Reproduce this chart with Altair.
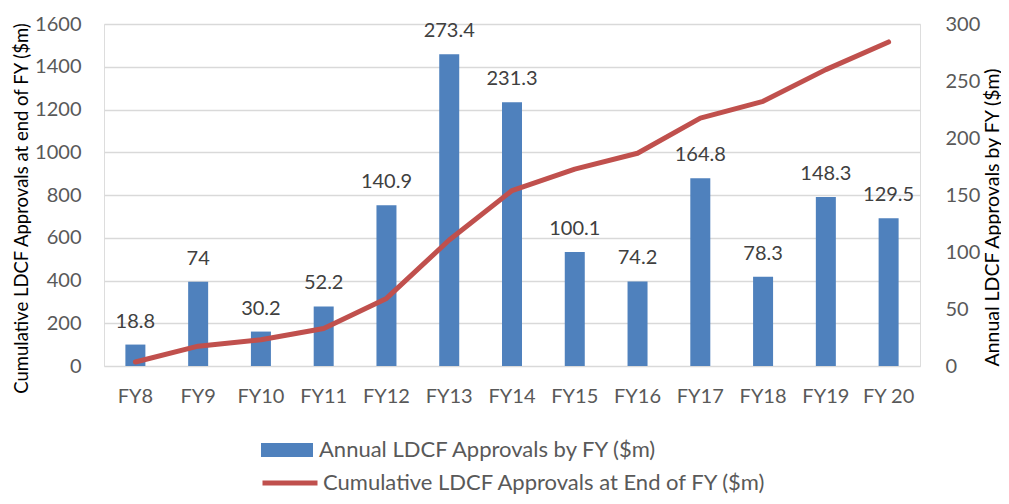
import altair as alt
import pandas as pd

categories = ["FY8", "FY9", "FY10", "FY11", "FY12", "FY13", "FY14", "FY15", "FY16", "FY17", "FY18", "FY19", "FY 20"]
annual = [18.8, 74, 30.2, 52.2, 140.9, 273.4, 231.3, 100.1, 74.2, 164.8, 78.3, 148.3, 129.5]
cumulative = [18.8, 92.8, 123.0, 175.2, 316.1, 589.5, 820.8, 920.9, 995.1, 1159.9, 1238.2, 1386.5, 1516.0]
labels = ["18.8", "74", "30.2", "52.2", "140.9", "273.4", "231.3", "100.1", "74.2", "164.8", "78.3", "148.3", "129.5"]
left_ticks = [0, 200, 400, 600, 800, 1000, 1200, 1400, 1600]
right_ticks = [0, 50, 100, 150, 200, 250, 300]
bar_series = "Annual LDCF Approvals by FY ($m)"
line_series = "Cumulative LDCF Approvals at End of FY ($m)"

df = pd.DataFrame({
    "fy": categories,
    "annual": annual,
    "cumulative": cumulative,
    "label": labels,
    "bs": [bar_series] * len(categories),
    "ls": [line_series] * len(categories),
})

FONT = "Lato"
TXT = "#595959"

x = alt.X("fy:N", sort=categories, title=None,
          scale=alt.Scale(paddingInner=0, paddingOuter=0),
          axis=alt.Axis(labelAngle=0, ticks=False, domain=False, labelPadding=20,
                        labelFontSize=20, labelColor=TXT, labelFont=FONT))

base = alt.Chart(df)

bars = base.mark_bar(size=20).encode(
    x=x,
    y=alt.Y("annual:Q", scale=alt.Scale(domain=[0, 300]),
            axis=alt.Axis(orient="right", values=right_ticks, format="d", grid=False, ticks=False,
                          domain=False, labelPadding=25, labelFontSize=20, labelColor=TXT,
                          labelAlign="left", labelFont=FONT,
                          title="Annual LDCF Approvals by FY ($m)", titleFontSize=19.5,
                          titleFontWeight="normal", titleColor="#000000", titleFont=FONT,
                          titleAngle=270, titleX=72, titleY=193, titleAlign="center",
                          titleBaseline="middle")),
    fill=alt.Fill("bs:N", scale=alt.Scale(range=["#4F81BD"]),
                  legend=alt.Legend(orient="none", legendX=157, legendY=400, title=None,
                                    symbolType="M-1,-0.27L1,-0.27L1,0.27L-1,0.27Z",
                                    symbolSize=2704, symbolStrokeWidth=0, labelOffset=6,
                                    labelFontSize=22, labelColor=TXT, labelFont=FONT,
                                    labelLimit=600)),
)

text = base.mark_text(baseline="middle", dy=-23, fontSize=20, color="#404040", font=FONT).encode(
    x=x,
    y=alt.Y("annual:Q", scale=alt.Scale(domain=[0, 300]), axis=None),
    text="label:N",
)

line = base.mark_line(strokeWidth=5, strokeCap="round", strokeJoin="round").encode(
    x=x,
    y=alt.Y("cumulative:Q", scale=alt.Scale(domain=[0, 1600]),
            axis=alt.Axis(orient="left", values=left_ticks, format="d", grid=True, gridColor="#D9D9D9",
                          gridWidth=1.5, ticks=False, domain=False, labelPadding=23,
                          labelFontSize=20, labelColor=TXT, labelFont=FONT,
                          title="Cumulative LDCF Approvals at end of FY ($m)", titleFontSize=18.5,
                          titleFontWeight="normal", titleColor="#000000", titleFont=FONT,
                          titleAngle=270, titleX=-83, titleY=184, titleAlign="center",
                          titleBaseline="middle")),
    stroke=alt.Stroke("ls:N", scale=alt.Scale(range=["#C0504D"]),
                      legend=alt.Legend(orient="none", legendX=156, legendY=429, title=None,
                                        symbolType="stroke", symbolSize=3025,
                                        symbolStrokeWidth=5, labelOffset=3,
                                        labelFontSize=22, labelColor=TXT, labelFont=FONT,
                                        labelLimit=700)),
)

chart = alt.layer(bars, line, text).resolve_scale(
    y="independent", fill="independent", stroke="independent"
).properties(
    width=816, height=342,
    autosize=alt.AutoSizeParams(type="none"),
    padding={"left": 96, "top": 16, "right": 81, "bottom": 130},
).configure_view(stroke=None).configure(font=FONT)

chart.save("out.html", embed_options={"renderer": "svg", "actions": False})
